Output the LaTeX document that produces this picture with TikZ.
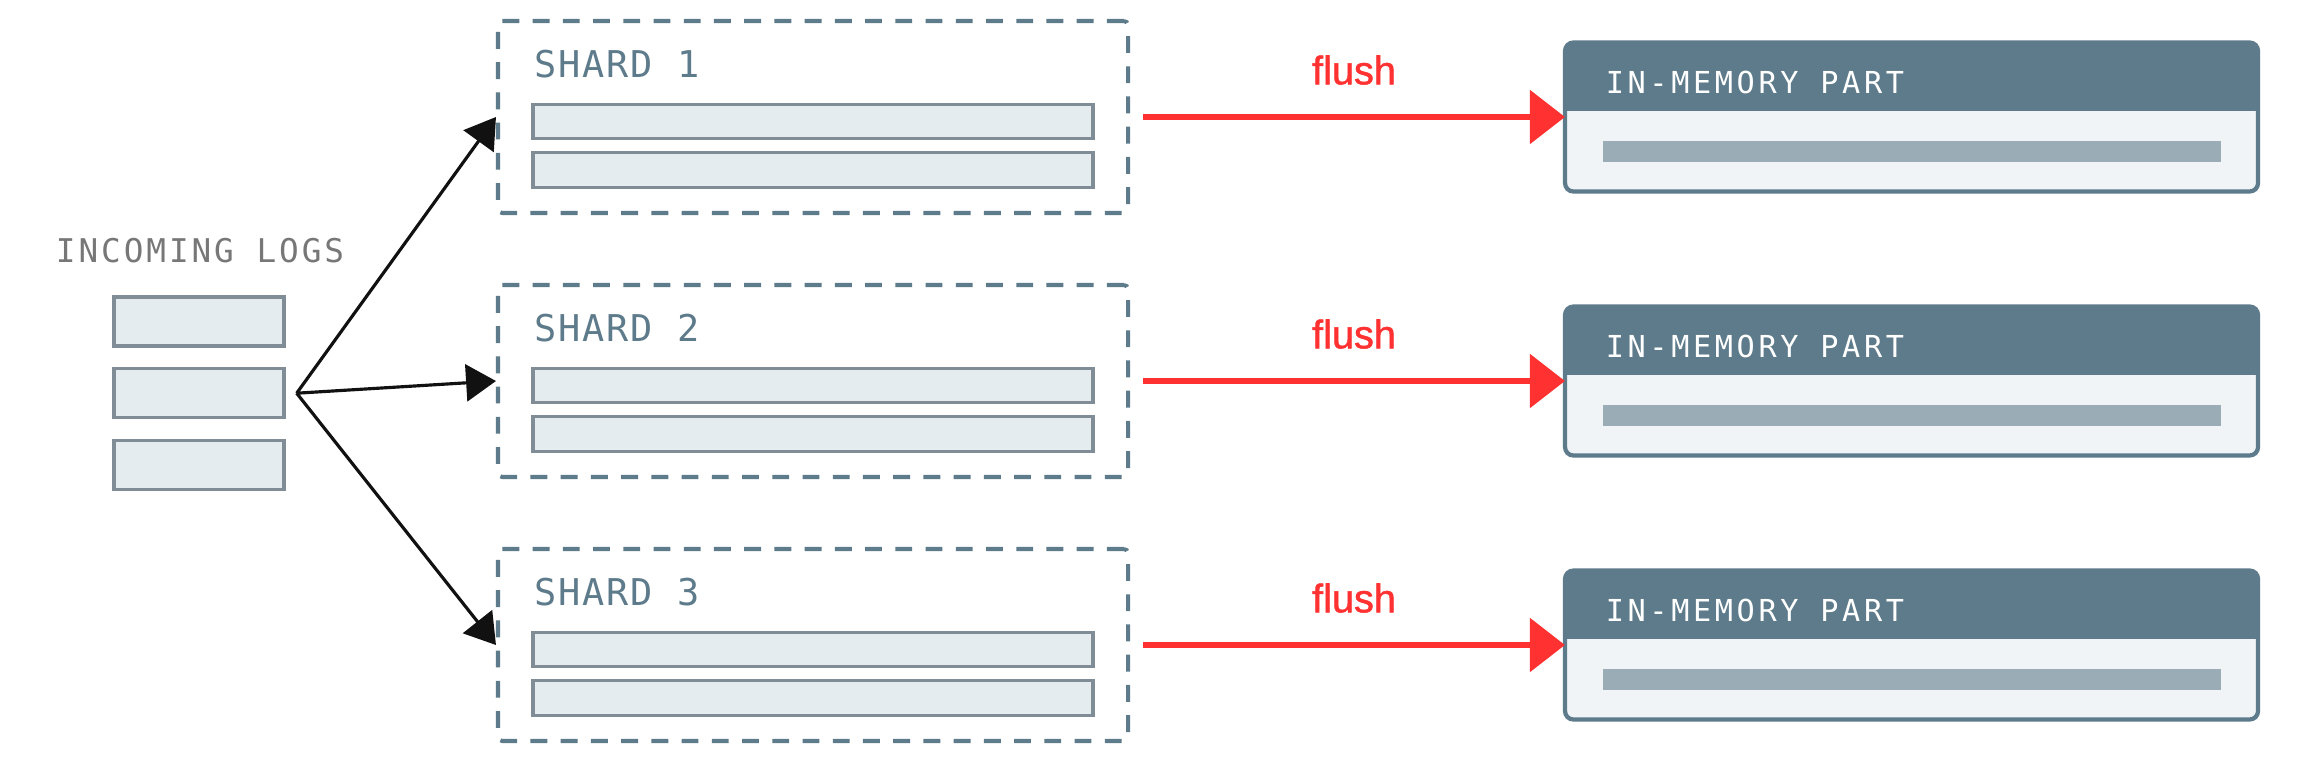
\documentclass[tikz,border=0pt]{standalone}
\usepackage{fontspec}
\setmainfont{Liberation Sans}
\newfontfamily\inlogfont[LetterSpace=9]{DejaVu Sans Mono}
\newfontfamily\shardfont[LetterSpace=5]{DejaVu Sans Mono}
\newfontfamily\memfont[LetterSpace=12]{DejaVu Sans Mono}
\newfontfamily\flushfont[FakeBold=1.3]{Liberation Sans}
\usetikzlibrary{arrows.meta, positioning, calc}
\definecolor{cslate}{HTML}{5E7B8B}
\definecolor{crow}{HTML}{E4ECF0}
\definecolor{crowline}{HTML}{808D96}
\definecolor{cpale}{HTML}{F1F4F6}
\definecolor{cfillbar}{HTML}{9AADB7}
\definecolor{cred}{HTML}{FF3131}
\definecolor{cgrey}{HTML}{777777}
\definecolor{cink}{HTML}{111111}
\tikzset{
  every picture/.style={line width=1pt},
  shardbox/.style={draw=cslate, line width=1.15pt, dash pattern=on 4.8pt off 3.8pt, rounded corners=1.2pt, minimum width=6.3cm, minimum height=1.92cm, inner sep=0pt},
  logbox/.style={draw=crowline, fill=crow, line width=0.95pt, inner sep=0pt, minimum width=#1, minimum height=0.345cm},
  logbox/.default=5.6cm,
  partbox/.style={fill=cpale, minimum width=6.93cm, minimum height=1.49cm, inner sep=0pt, outer sep=0pt},
  partline/.style={draw=cslate, line width=1.2pt, rounded corners=2.4pt},
  fillbar/.style={fill=cfillbar, inner sep=0pt, minimum width=6.18cm, minimum height=0.21cm},
  feedarrow/.style={-{Triangle[length=8.5pt, width=10.5pt]}, draw=cink, line width=0.9pt},
  flusharrow/.style={-{Triangle[length=10pt, width=15pt]}, draw=cred, line width=1.9pt},
  logtitle/.style={font=\inlogfont\fontsize{9.3}{11}\selectfont, text=cgrey, inner sep=0pt},
  shardtag/.style={font=\shardfont\fontsize{10.5}{12}\selectfont, text=cslate, inner sep=0pt, anchor=base west},
  parttag/.style={font=\memfont\fontsize{8.6}{10}\selectfont, text=white, inner sep=0pt, anchor=base west},
  flushtext/.style={font=\flushfont\fontsize{11.3}{13}\selectfont, text=cred, inner sep=0pt},
}
\begin{document}
\begin{tikzpicture}
  \useasboundingbox (0,0) rectangle (23.16,-7.62);
  % incoming logs on the left
  \foreach \i in {1,2,3}
    \node[logbox=1.7cm, minimum height=0.49cm] (l\i) at (1.99,{-3.215-0.717*(\i-1)}) {};
  \node[logtitle, anchor=base] (inlog) at (2.0,-2.62) {INCOMING LOGS};
  \coordinate (fork) at ($(l2.east)+(0.11,0)$);
  % shards and in-memory parts
  \foreach \i in {1,2,3} {
    \node[shardbox] (s\i) at (8.13,{-1.17-2.64*(\i-1)}) {};
    \node[shardtag] (t\i) at ($(s\i.north west)+(0.37,-0.59)$) {SHARD \i};
    \node[logbox] (b\i-1) at ($(s\i)+(0,-0.045)$) {};
    \node[logbox] (b\i-2) at ($(s\i)+(0,-0.53)$) {};
    \coordinate (o\i) at ($(s\i.east)+(0.13,0)$);
    \node[partbox] (m\i) at (19.115,{-1.17-2.64*(\i-1)}) {};
    \begin{scope}
      \clip[rounded corners=2.4pt] (m\i.south west) rectangle (m\i.north east);
      \fill[cslate] (m\i.north west) rectangle ($(m\i.north east)+(0,-0.68)$);
    \end{scope}
    \draw[partline] (m\i.south west) rectangle (m\i.north east);
    \node[parttag] (h\i) at ($(m\i.north west)+(0.39,-0.51)$) {IN-MEMORY PART};
    \node[fillbar] (g\i) at ($(m\i)+(0,-0.34)$) {};
  }
  % arrows
  \foreach \i in {1,2,3} {
    \draw[feedarrow] (fork) -- (s\i.west);
    \draw[flusharrow] (o\i) -- (m\i.west)
      node[flushtext, midway, above=0.29cm] {flush};
  }
\end{tikzpicture}
\end{document}
